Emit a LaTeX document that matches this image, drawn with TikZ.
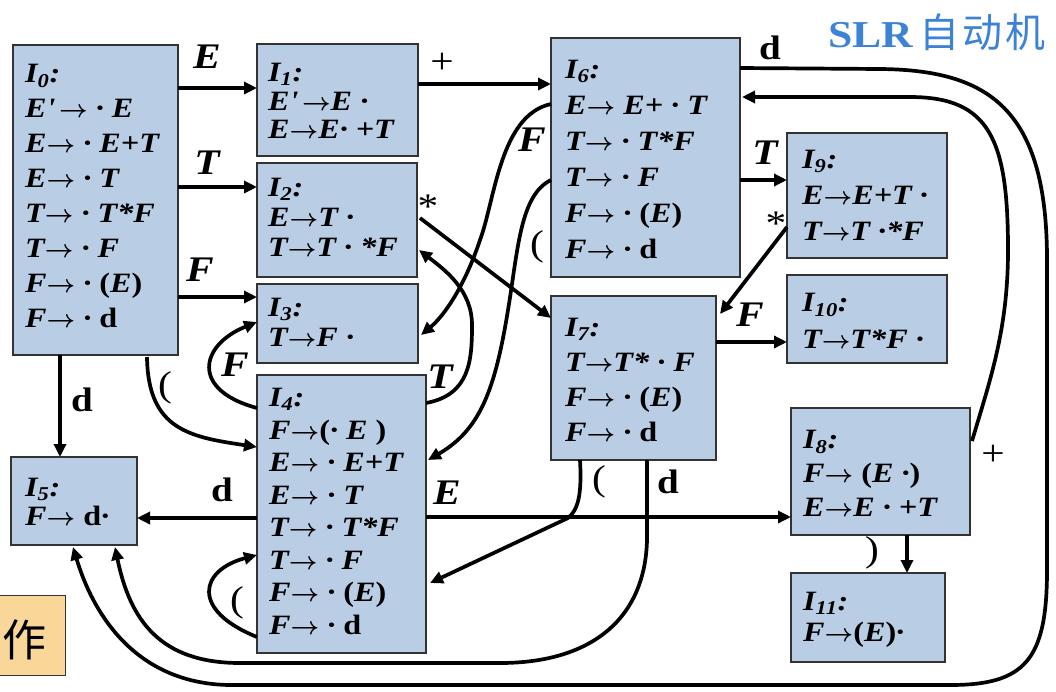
\documentclass[tikz,border=0pt]{standalone}
\usepackage{fontspec}
\setmainfont{Liberation Serif}[FakeStretch=1.15]
\newfontfamily\cjk{Noto Sans CJK SC}
\usetikzlibrary{arrows.meta,calc}
\definecolor{boxblue}{RGB}{185,205,229}
\definecolor{titleblue}{RGB}{60,130,215}
\definecolor{orangebox}{RGB}{249,215,153}
\newcommand\dd{\textup{d}}
\newcommand\Lp{\textup{(}}
\newcommand\Rp{\textup{)}}
\newcommand\Prm{\textquotesingle}
\newcommand\Arr{\hbox{\fontsize{26}{26}\selectfont\boldmath$\rightarrow$}}
\newcommand\Is[1]{I\textsubscript{#1}:}
\begin{document}
\begin{tikzpicture}[x=1pt,y=-1pt,
  box/.style={draw=black!80, line width=1.3pt, fill=boxblue, anchor=north west, inner sep=0pt, outer sep=0pt},
  items/.style={anchor=north west, inner sep=0pt, align=left, font=\fontsize{28}{#1}\selectfont\bfseries\itshape},
  conn/.style={line width=3.7pt, -{Triangle[length=13pt,width=12pt]}},
  lab/.style={font=\fontsize{36}{36}\selectfont\bfseries\itshape, inner sep=0pt},
  labd/.style={font=\fontsize{34}{34}\selectfont\bfseries, inner sep=0pt},
  sym/.style={font=\fontsize{36}{36}\selectfont, inner sep=0pt},
]
\useasboundingbox (0,0) rectangle (1056,691);

% title and partial side box
\node[anchor=base west, inner sep=0pt, text=titleblue, font=\fontsize{38}{38}\selectfont] (title) at (828,47) {\textbf{SLR}\hspace{6pt}{\cjk\fontsize{40}{40}\selectfont 自\hspace{3pt}动\hspace{3pt}机}};
\node[draw=black!80, line width=1.3pt, fill=orangebox, anchor=north west, minimum width=68pt, minimum height=80pt, inner sep=0pt] (side) at (-3,595) {};
\node[inner sep=0pt, font=\fontsize{44}{44}\selectfont\cjk] (sidetext) at (24,640) {作};

% boxes
\node[box, minimum width=165pt, minimum height=310pt] (I0) at (13,45) {};
\node[box, minimum width=161pt, minimum height=112pt] (I1) at (257,44) {};
\node[box, minimum width=160pt, minimum height=114pt] (I2) at (257,163) {};
\node[box, minimum width=161pt, minimum height=79pt] (I3) at (257,284) {};
\node[box, minimum width=169pt, minimum height=278pt] (I4) at (257,375) {};
\node[box, minimum width=126pt, minimum height=88pt] (I5) at (11,457) {};
\node[box, minimum width=189pt, minimum height=239pt] (I6) at (551,38) {};
\node[box, minimum width=165pt, minimum height=164pt] (I7) at (551,296) {};
\node[box, minimum width=179pt, minimum height=127pt] (I8) at (791,408) {};
\node[box, minimum width=160pt, minimum height=125pt] (I9) at (787,133) {};
\node[box, minimum width=160pt, minimum height=88pt] (I10) at (787,275) {};
\node[box, minimum width=154pt, minimum height=89pt] (I11) at (791,573) {};

% item texts
\node[items=35] (t0) at (25,64) {\Is{0}\\E\Prm\,\Arr\ · E\\E\Arr\ · E+T\\E\Arr\ · T\\T\Arr\ · T*F\\T\Arr\ · F\\F\Arr\ · \Lp E\Rp\\F\Arr\ · \dd};
\node[items=28.5] (t1) at (268,63) {\Is{1}\\E\Prm\,\Arr E ·\\E\Arr E· +T};
\node[items=30] (t2) at (268,178) {\Is{2}\\E\Arr T ·\\T\Arr T · *F};
\node[items=30] (t3) at (268,298) {\Is{3}\\T\Arr F ·};
\node[items=32.5] (t4) at (269,388) {\Is{4}\\F\Arr\Lp· E \Rp\\E\Arr\ · E+T\\E\Arr\ · T\\T\Arr\ · T*F\\T\Arr\ · F\\F\Arr\ · \Lp E\Rp\\F\Arr\ · \dd};
\node[items=29] (t5) at (25,478) {\Is{5}\\F\Arr\ \dd·};
\node[items=36] (t6) at (565,60) {\Is{6}\\E\Arr\ E+ · T\\T\Arr\ · T*F\\T\Arr\ · F\\F\Arr\ · \Lp E\Rp\\F\Arr\ · \dd};
\node[items=35] (t7) at (565,318) {\Is{7}\\T\Arr T* · F\\F\Arr\ · \Lp E\Rp\\F\Arr\ · \dd};
\node[items=34] (t8) at (803,430) {\Is{8}\\F\Arr\ \Lp E ·\Rp\\E\Arr E · +T};
\node[items=36] (t9) at (802,150) {\Is{9}\\E\Arr E+T ·\\T\Arr T ·*F};
\node[items=37] (t10) at (802,293) {\Is{10}\\T\Arr T*F ·};
\node[items=31] (t11) at (803,592) {\Is{11}\\F\Arr\Lp E\Rp ·};

% connectors
\draw[conn] ($(I0.north west)+(165,43)$) -- ($(I1.north west)+(0,44)$);
\draw[conn] ($(I0.north west)+(165,142)$) -- ($(I2.north west)+(0,24)$);
\draw[conn] ($(I0.north west)+(165,252)$) -- ($(I3.north west)+(0,13)$);
\draw[conn] ($(I1.north west)+(161,40)$) -- ($(I6.north west)+(0,46)$);
\draw[conn] ($(I0.north west)+(47,310)$) -- ($(I5.north west)+(49,0)$);
\draw[conn] ($(I0.north west)+(134,312)$) .. controls (148,430) and (190,437) .. ($(I4.north west)+(0,72)$);
\draw[conn] ($(I4.north west)+(0,33)$) .. controls (190,390) and (200,345) .. ($(I3.north west)+(0,38)$);
\draw[conn] ($(I4.north west)+(0,262)$) .. controls (190,610) and (200,570) .. ($(I4.north west)+(0,180)$);
\draw[conn] ($(I4.north west)+(0,143)$) -- ($(I5.north west)+(126,61)$);
\draw[conn] ($(I4.north west)+(169,142)$) -- ($(I8.north west)+(0,109)$);
\draw[conn] ($(I4.north west)+(169,28)$) .. controls (470,395) and (472,360) .. (472,325) .. controls (472,290) and (445,270) .. ($(I2.north west)+(162,87)$);
\draw[conn] ($(I2.north west)+(163,55)$) -- ($(I7.north west)+(0,22)$);
\draw[conn] ($(I6.north west)+(0,66)$) .. controls (500,115) and (495,200) .. (480,240) .. controls (465,285) and (445,315) .. ($(I3.north west)+(164,51)$);
\draw[conn] ($(I6.north west)+(0,142)$) .. controls (520,195) and (518,250) .. (508,310) .. controls (495,390) and (480,430) .. ($(I4.north west)+(171,85)$);
\draw[conn] ($(I6.north west)+(189,142)$) -- ($(I9.north west)+(0,47)$);
\draw[conn] ($(I9.north west)+(0,94)$) -- ($(I7.north west)+(169,18)$);
\draw[conn] ($(I7.north west)+(165,46)$) -- ($(I10.north west)+(0,67)$);
\draw[conn] ($(I8.north west)+(116,127)$) -- ($(I11.north west)+(116,0)$);
\draw[conn] ($(I8.north west)+(181,33)$) .. controls (990,380) and (1008,330) .. (1008,250) .. controls (1008,140) and (990,97) .. (910,97) -- ($(I6.north west)+(191,59)$);
\draw[conn] ($(I6.north west)+(189,30)$) -- (880,69) .. controls (990,70) and (1047,110) .. (1047,260) -- (1047,570) .. controls (1047,660) and (1025,685) .. (950,685) -- (230,685) .. controls (140,684) and (95,620) .. ($(I5.north west)+(62,90)$);
\draw[conn] ($(I7.north west)+(29,164)$) .. controls (582,495) and (578,510) .. (568,518) -- ($(I4.north west)+(173,208)$);
\draw[conn] ($(I7.north west)+(96,164)$) -- (647,540) .. controls (645,620) and (590,663) .. (500,663) -- (240,663) .. controls (160,663) and (130,620) .. ($(I5.north west)+(104,90)$);

% connector labels
\node[lab] (lE1) at (207,57) {E};
\node[lab] (lT1) at (207,163) {T};
\node[lab] (lF1) at (200,270) {F};
\node[sym] (lp1) at (442,63) {+};
\node[sym] (ls1) at (428,207) {*};
\node[lab] (lF2) at (532,140) {F};
\node[sym] (lq1) at (537,247) {(};
\node[lab] (lT2) at (440,377) {T};
\node[labd] (ld1) at (82,400) {d};
\node[sym] (lq2) at (165,388) {(};
\node[lab] (lF3) at (235,365) {F};
\node[labd] (ld2) at (222,490) {d};
\node[sym] (lq3) at (237,603) {(};
\node[lab] (lE2) at (447,493) {E};
\node[sym] (lq4) at (599,482) {(};
\node[labd] (ld3) at (668,482) {d};
\node[labd] (ld4) at (770,48) {d};
\node[lab] (lT3) at (765,153) {T};
\node[sym] (ls2) at (776,224) {*};
\node[lab] (lF4) at (750,315) {F};
\node[sym] (lp2) at (993,455) {+};
\node[sym] (lr1) at (872,553) {)};
\end{tikzpicture}
\end{document}
